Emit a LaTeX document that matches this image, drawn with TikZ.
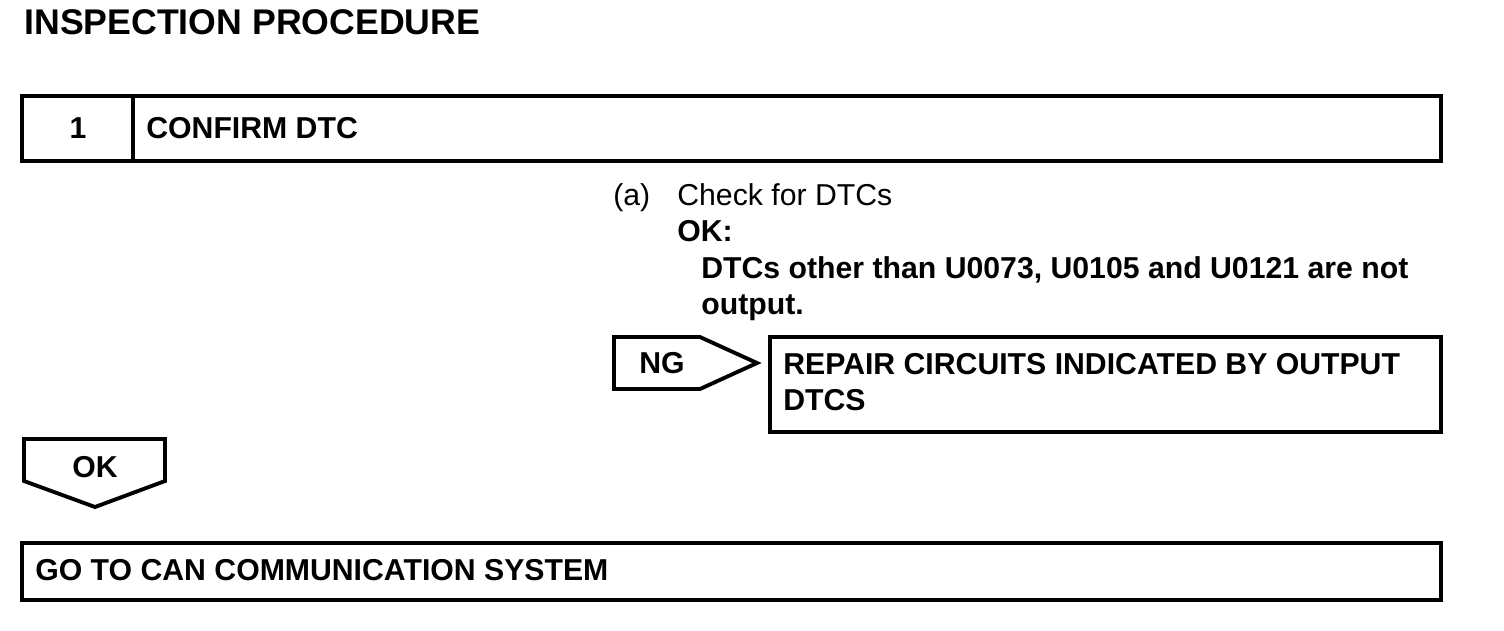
\documentclass[tikz,border=0pt]{standalone}
\usepackage{fontspec}
\setmainfont{Liberation Sans}
\newcommand{\bodysize}{\fontsize{17.2pt}{20pt}\selectfont}
\newcommand{\titlesize}{\fontsize{20.3pt}{24pt}\selectfont}
\begin{document}
\begin{tikzpicture}[x=0.02cm,y=-0.02cm,
    frame/.style={line width=2.2pt, line join=miter},
    txt/.style={anchor=base west, inner sep=0pt, font=\bodysize\bfseries},
    plaintxt/.style={anchor=base west, inner sep=0pt, font=\bodysize}]
    \useasboundingbox (0,0) rectangle (1504,630);
    \node [anchor=base west, inner sep=0pt, font=\titlesize\bfseries] (title) at (24,34) {INSPECTION PROCEDURE};
    % step 1 header
    \draw [frame] (22,96) rectangle (1441,161);
    \draw [frame] (133,96) -- (133,161);
    \node [txt, anchor=base] (stepnum) at (78,138) {1};
    \node [txt] (steptitle) at (146,138) {CONFIRM DTC};
    % check
    \node [plaintxt] (itema) at (613,205) {(a)};
    \node [plaintxt] (check) at (677,205) {Check for DTCs};
    \node [txt] (okhead) at (677,241) {OK:};
    \node [txt] (okline1) at (701,278) {DTCs other than U0073, U0105 and U0121 are not};
    \node [txt] (okline2) at (701,314) {output.};
    % NG branch
    \draw [frame] (614,337) -- (700,337) -- (757,363) -- (700,389) -- (614,389) -- cycle;
    \node [txt] (ngtag) at (639,373) {NG};
    \draw [frame] (770,337) rectangle (1441,432);
    \node [txt] (repair1) at (783,374) {REPAIR CIRCUITS INDICATED BY OUTPUT};
    \node [txt] (repair2) at (783,410) {DTCS};
    % OK branch
    \draw [frame] (24,439) -- (165,439) -- (165,481) -- (95,507) -- (24,481) -- cycle;
    \node [txt, anchor=base] (oktag) at (95,477) {OK};
    \draw [frame] (22,543) rectangle (1441,600);
    \node [txt] (goto) at (35,580) {GO TO CAN COMMUNICATION SYSTEM};
\end{tikzpicture}
\end{document}
